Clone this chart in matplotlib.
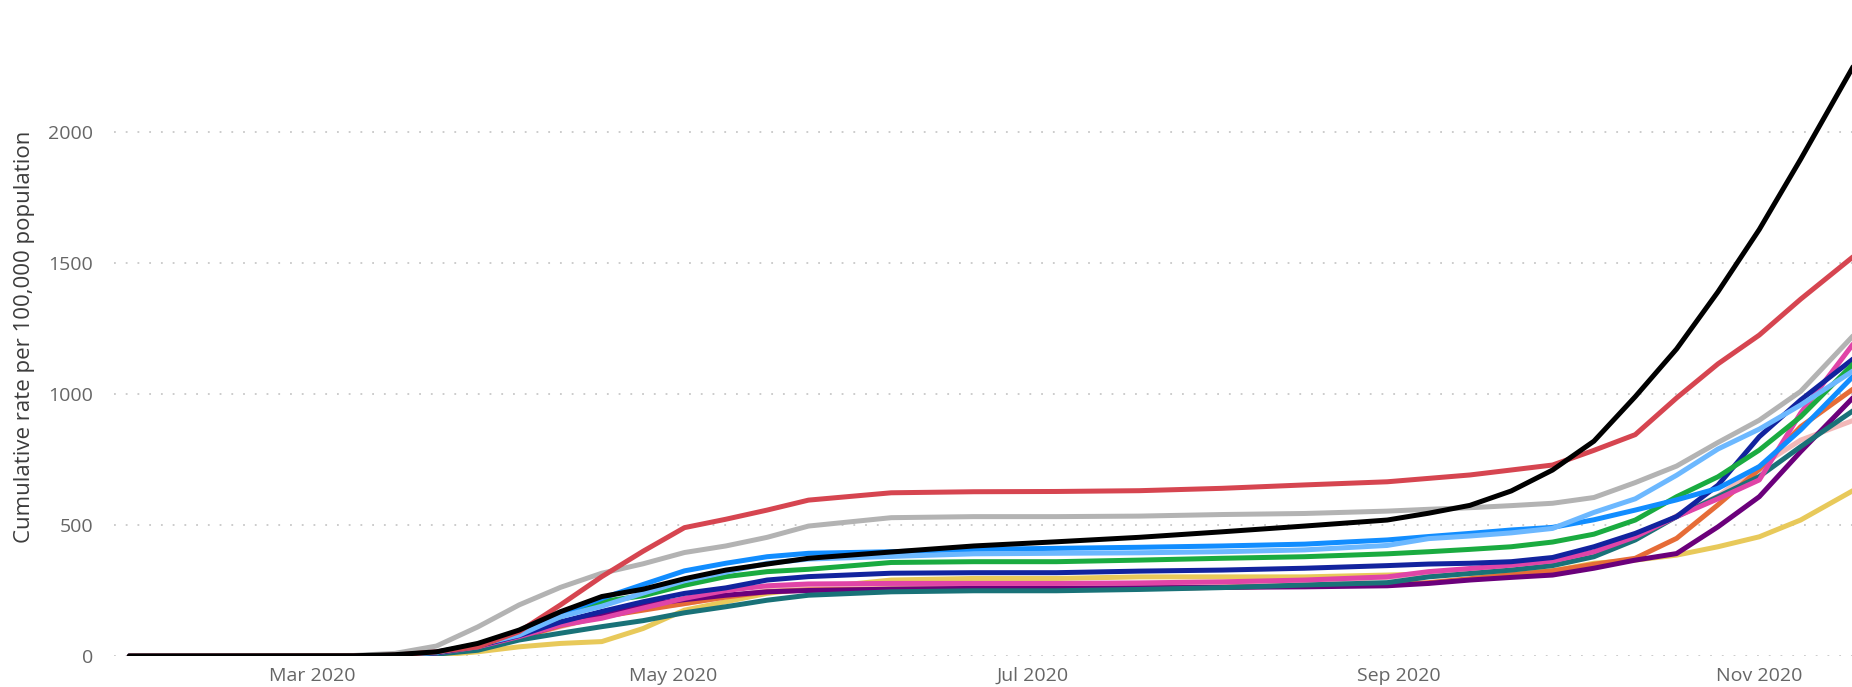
import matplotlib
matplotlib.use("Agg")
import matplotlib.pyplot as plt
import matplotlib.dates as mdates
import numpy as np
from datetime import datetime, timedelta

# dates of the read points
dates = ["2020-01-30", "2020-03-08", "2020-03-15", "2020-03-22", "2020-03-29",
         "2020-04-05", "2020-04-12", "2020-04-19", "2020-04-26", "2020-05-03",
         "2020-05-10", "2020-05-17", "2020-05-24", "2020-06-07", "2020-06-21",
         "2020-07-05", "2020-07-19", "2020-08-02", "2020-08-16", "2020-08-30",
         "2020-09-06", "2020-09-13", "2020-09-20", "2020-09-27", "2020-10-04",
         "2020-10-11", "2020-10-18", "2020-10-25", "2020-11-01", "2020-11-08",
         "2020-11-17"]

# cumulative rate per 100,000
yellow = [0, 0, 1, 3, 16, 35, 48, 55, 105, 175, 207, 239, 258, 290, 296, 296, 302, 302, 302, 309,
          313, 315, 318, 325, 354, 366, 385, 417, 455, 519, 633]
lightpink = [0, 1, 2, 10, 30, 70, 112, 150, 182, 200, 226, 250, 262, 268, 270, 272, 275, 280, 285, 300,
             318, 330, 345, 360, 395, 445, 535, 610, 723, 824, 900]
orange = [0, 1, 2, 10, 30, 70, 115, 150, 175, 200, 225, 245, 252, 255, 255, 256, 258, 262, 268, 272,
          280, 295, 310, 325, 350, 373, 449, 577, 712, 875, 1021]
purple = [0, 1, 3, 12, 35, 72, 120, 160, 196, 215, 232, 245, 250, 255, 258, 258, 260, 262, 264, 268,
          277, 290, 300, 309, 335, 366, 391, 493, 608, 780, 989]
teal = [0, 1, 2, 7, 22, 61, 87, 112, 135, 165, 188, 213, 232, 245, 249, 249, 254, 261, 271, 280,
        302, 315, 328, 345, 379, 443, 532, 608, 685, 799, 938]
pink = [0, 1, 3, 12, 35, 74, 118, 144, 183, 220, 250, 268, 275, 277, 277, 277, 279, 283, 290, 302,
        322, 334, 347, 363, 398, 455, 532, 600, 672, 927, 1194]
navy = [0, 1, 3, 12, 38, 78, 130, 170, 207, 239, 260, 290, 303, 316, 318, 318, 324, 328, 335, 345,
        351, 354, 360, 376, 417, 468, 532, 652, 837, 977, 1136]
green = [0, 1, 4, 14, 45, 89, 150, 208, 230, 270, 303, 322, 331, 357, 360, 360, 366, 373, 379, 390,
         398, 407, 417, 435, 465, 519, 608, 684, 786, 913, 1117]
blue = [0, 1, 4, 14, 44, 92, 160, 220, 273, 325, 354, 379, 392, 398, 407, 411, 415, 420, 427, 443,
        456, 468, 481, 491, 520, 557, 596, 640, 723, 863, 1070]
lightblue = [0, 1, 4, 15, 42, 80, 150, 190, 240, 287, 320, 354, 370, 380, 390, 392, 394, 398, 405, 422,
             448, 458, 470, 487, 548, 600, 690, 790, 866, 958, 1090]
gray = [0, 2, 10, 38, 111, 195, 262, 316, 352, 395, 420, 453, 496, 528, 532, 532, 534, 540, 544, 553,
        560, 566, 574, 583, 605, 662, 725, 815, 900, 1010, 1225]
red = [0, 0, 3, 16, 35, 93, 195, 303, 400, 490, 522, 557, 595, 623, 627, 628, 631, 640, 653, 665,
       678, 691, 710, 729, 785, 845, 985, 1115, 1225, 1362, 1526]
black = [0, 1, 5, 16, 48, 99, 169, 227, 255, 295, 328, 351, 373, 397, 420, 436, 453, 474, 496, 519,
         545, 575, 630, 710, 820, 990, 1172, 1390, 1628, 1896, 2254]

series = [
    (yellow, "#E8C95A"),
    (lightpink, "#F2B8B8"),
    (orange, "#E66C37"),
    (purple, "#6B007B"),
    (teal, "#197278"),
    (pink, "#E044A7"),
    (navy, "#12239E"),
    (green, "#1AAB40"),
    (blue, "#118DFF"),
    (lightblue, "#6CB8FF"),
    (gray, "#B3B3B3"),
    (red, "#D64550"),
    (black, "#000000"),
]

yticks = [0, 500, 1000, 1500, 2000]
xtick_dates = ["2020-03-01", "2020-05-01", "2020-07-01", "2020-09-01", "2020-11-01"]

plt.rcParams['font.family'] = ['Open Sans', 'DejaVu Sans']

W, H = 1852, 687
fig = plt.figure(figsize=(W / 100, H / 100), dpi=100)
ax = fig.add_axes([114 / W, 31 / H, 1 - 114 / W, 656 / H])

x = [datetime.strptime(d, "%Y-%m-%d") for d in dates]
for vals, col in series:
    ax.plot(x, vals, color=col, lw=3.6, solid_joinstyle='round', solid_capstyle='round')

mar1 = datetime(2020, 3, 1)
ax.set_xlim(mar1 - timedelta(days=33.6), mar1 + timedelta(days=260.7))
ax.set_ylim(0, 2504)

ax.set_yticks(yticks)
ax.set_yticklabels([str(v) for v in yticks])
ax.set_xticks([datetime.strptime(d, "%Y-%m-%d") for d in xtick_dates])
ax.xaxis.set_major_formatter(mdates.DateFormatter("%b %Y"))

for s in ax.spines.values():
    s.set_visible(False)
ax.tick_params(axis='both', length=0, labelsize=14, labelcolor='#666666')
ax.tick_params(axis='y', pad=15)
ax.tick_params(axis='x', pad=8)
ax.grid(axis='y', color='#C8C8C8', linestyle=(0, (1, 5.5)), lw=1.3)
ax.grid(axis='x', visible=False)
ax.set_axisbelow(True)

fig.text(25 / W, 1 - 337 / H, "Cumulative rate per 100,000 population", rotation=90,
         ha='center', va='center', fontsize=16, color='#3C3C3C')

fig.savefig("out.png", dpi=100)
